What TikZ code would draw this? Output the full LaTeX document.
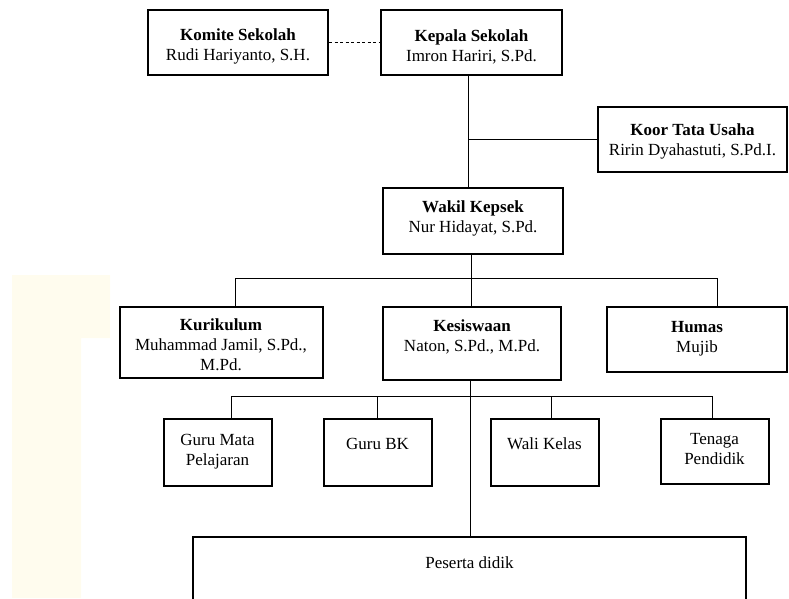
\documentclass[tikz,border=0pt]{standalone}
\usepackage{fontspec}
\setmainfont{Liberation Serif}
\usetikzlibrary{positioning}
\usetikzlibrary{calc}
\definecolor{scancream}{RGB}{255,252,238}

\begin{document}
\begin{tikzpicture}[x=1pt, y=-1pt, every node/.style={draw, line width=2pt, align=center, inner sep=0pt, font=\fontsize{17}{20}\selectfont}, link/.style={line width=1pt}, minor/.style={minimum width=108pt, minimum height=67pt}]
		\useasboundingbox (0,0) rectangle (789,598);
		\clip (0,0) rectangle (789,598);
		\fill[scancream] (12,275) -- (110,275) -- (110,338) -- (81,338) -- (81,598) -- (12,598) -- cycle;
		
		\node[minimum width=180pt, minimum height=65pt, text height=40pt] at (238,42.5) (komite) {\textbf{Komite Sekolah}\\Rudi Hariyanto, S.H.};
		\node[minimum width=181pt, minimum height=65pt, text height=40pt] at (471.5,42.5) (kepsek) {\textbf{Kepala Sekolah}\\Imron Hariri, S.Pd.};
		\node[minimum width=189pt, minimum height=65pt, text height=36pt] at (692.5,139.5) (tu) {\textbf{Koor Tata Usaha}\\Ririn Dyahastuti, S.Pd.I.};
		\node[minimum width=180pt, minimum height=66pt, text depth=8pt] at (473,220.5) (wakasek) {\textbf{Wakil Kepsek}\\Nur Hidayat, S.Pd.};
		
		\node[minimum width=203pt, minimum height=71pt, text height=57pt] at (221,342.5) (kurikulum) {\textbf{Kurikulum}\\Muhammad Jamil, S.Pd.,\\M.Pd.};
		\node[minimum width=178pt, minimum height=73pt, text depth=16pt] at (472,343.5) (kesiswaan) {\textbf{Kesiswaan}\\Naton, S.Pd., M.Pd.};
		\node[minimum width=180pt, minimum height=65pt] at (697,339) (humas) {\textbf{Humas}\\Mujib};
		
		\node[minor, text depth=6pt] at (217.5,452.5) (gurumapel) {Guru Mata\\Pelajaran};
		\node[minor, text depth=18pt] at (377.5,452.5) (gurubk) {Guru BK};
		\node[minor, text depth=18pt] at (544.5,452.5) (walikelas) {Wali Kelas};
		\node[minor, minimum height=65pt, text depth=6pt] at (714.5,451.5) (tendik) {Tenaga\\Pendidik};
		
		\node[minimum width=553pt, minimum height=90pt, text depth=38pt] at (469.5,582) (peserta) {Peserta didik};
		
		\coordinate (barA) at (235,278);
		\coordinate (barB) at (717,278);
		\coordinate (barC) at (231,396);
		\coordinate (barD) at (712,396);
		
		\draw[link, dash pattern=on 3pt off 2.5pt] (komite) -- (kepsek);
		\draw[link] (kepsek.south -| 468,0) -- (468,0 |- wakasek.north);
		\draw[link] (tu.west) -- (tu.west -| 468,0);
		\draw[link] (wakasek.south -| 471,0) -- (471,0 |- kesiswaan.north);
		\draw[link] (barA) -- (barB);
		\draw[link] (barA) -- (barA |- kurikulum.north);
		\draw[link] (barB) -- (barB |- humas.north);
		\draw[link] (kesiswaan.south -| 470,0) -- (470,0 |- peserta.north);
		\draw[link] (barC) -- (barD);
		\draw[link] (barC) -- (barC |- gurumapel.north);
		\draw[link] (gurubk.north |- barC) -- (gurubk.north);
		\draw[link] (barC -| 551,0) -- (551,0 |- walikelas.north);
		\draw[link] (barD) -- (barD |- tendik.north);
	\end{tikzpicture}
\end{document}
